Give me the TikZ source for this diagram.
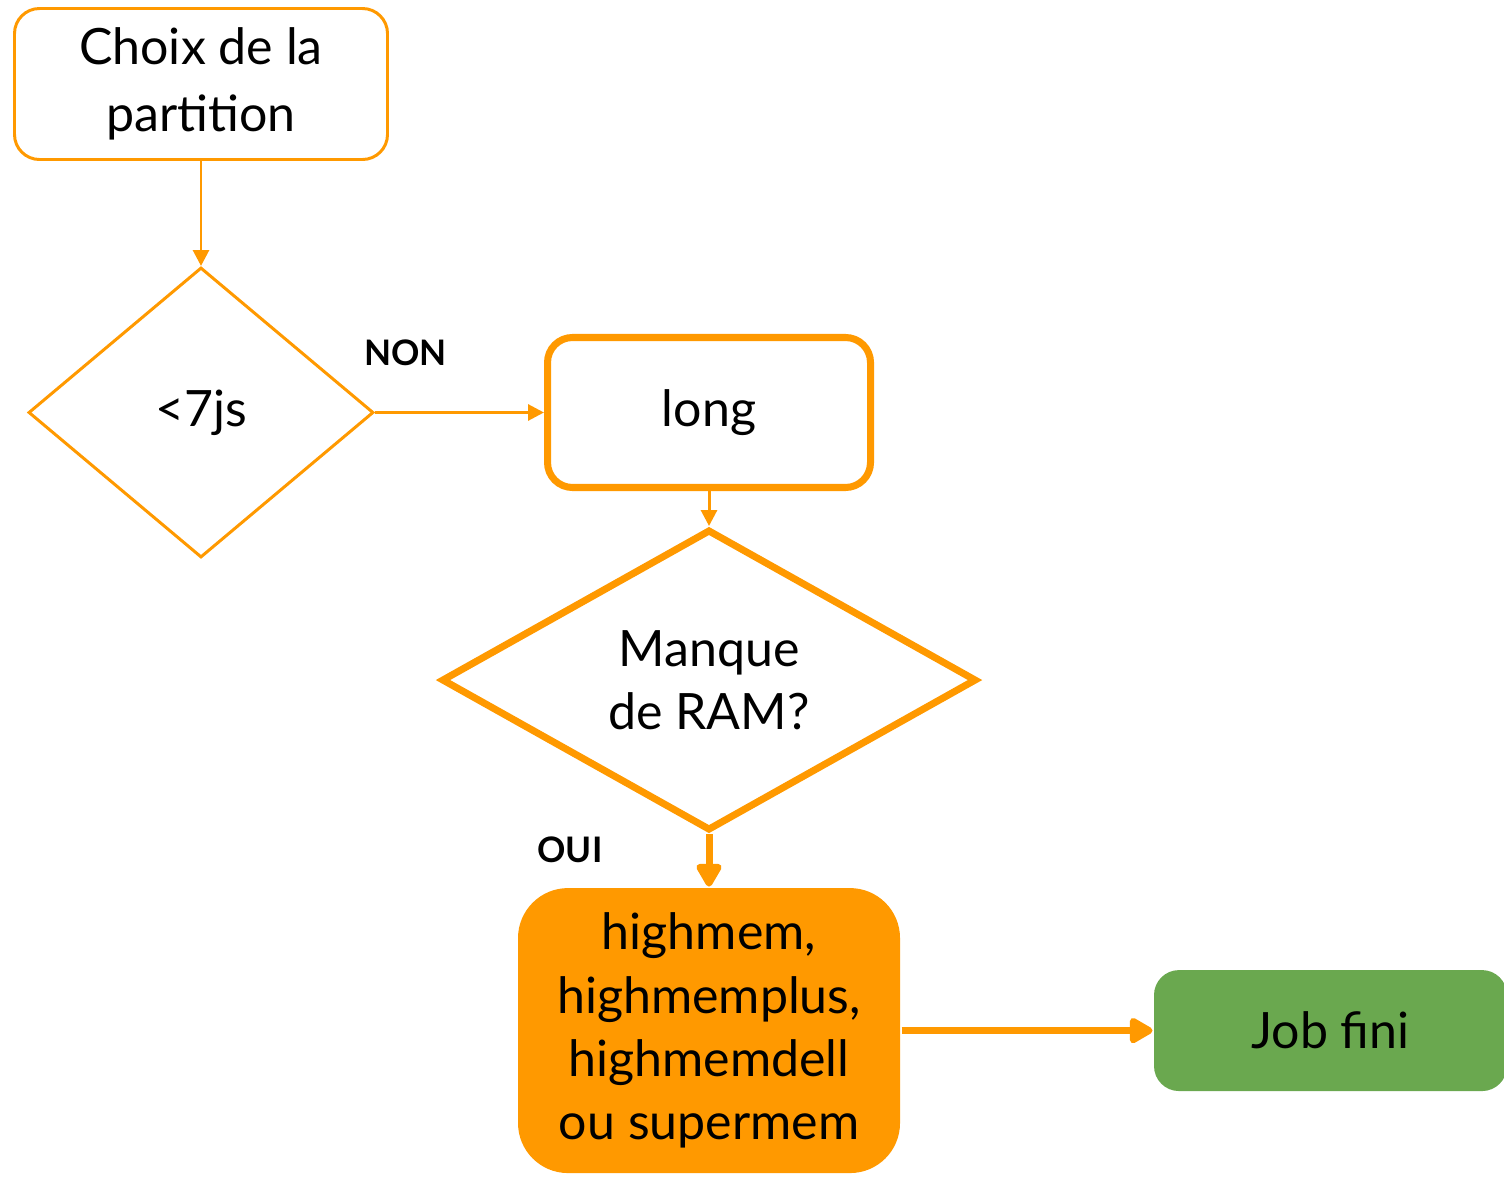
\documentclass[tikz,border=0pt]{standalone}
\usepackage{fontspec}
\setmainfont{Lato}
\usetikzlibrary{arrows.meta,positioning,shapes.geometric}
\definecolor{partorange}{HTML}{FF9900}
\definecolor{fingreen}{HTML}{6AA84F}

\begin{document}
\begin{tikzpicture}[
       etape/.style={
         rectangle,
         draw=partorange,
         line width=1.7pt,
         rounded corners=0.5cm,
         align=center,
         font=\fontsize{28.5}{36}\selectfont},
       choix/.style={
         diamond,
         draw=partorange,
         line width=1.7pt,
         inner sep=0pt,
         align=center,
         font=\fontsize{28.5}{36}\selectfont},
       reponse/.style = {inner sep=0pt, font=\fontsize{20}{24}\selectfont\bfseries},
       fleche/.style = {draw=partorange, line width=1.7pt, -{Triangle[length=9pt,width=9pt]}},
       grosse fleche/.style = {draw=partorange, line width=4pt, -{Triangle[round,length=15pt,width=16pt]}},
node distance=2.1cm and 3.38cm
      ]
      \useasboundingbox (0,0) rectangle (30.08,-23.52);

      \node[etape, minimum width=7.46cm, minimum height=3.02cm] (partition) at (4.02,-1.68) {Choix de la\\[2pt]partition};
      \node[choix, below = of partition, minimum width=6.9cm, minimum height=5.8cm] (duree) {<7js};
      \node[etape, right = of duree, line width=4pt, minimum width=6.46cm, minimum height=3.0cm] (long) {long};
      \node[choix, below = 0.7cm of long, line width=4pt, minimum width=10.7cm, minimum height=5.45cm] (ram) {Manque\\de RAM?};
      \node[etape, below = 1.05cm of ram, draw=none, fill=partorange, rounded corners=1cm,
            minimum width=7.64cm, minimum height=5.7cm] (highmem) {highmem,\\highmemplus,\\highmemdell\\ou supermem};
      \node[etape, right = 5.02cm of highmem, draw=none, fill=fingreen,
            minimum width=7.06cm, minimum height=2.42cm] (fini) {Job fini};

      \draw[fleche] (partition) -- (duree);
      \draw[fleche] (duree) -- node[reponse, pos=0.18, above=0.9cm] (non) {NON} (long);
      \draw[fleche] (long.south) -- (ram.north);
      \draw[grosse fleche] (ram.south) -- node[reponse, pos=0.3, left=2.06cm] (oui) {OUI} (highmem.north);
      \draw[grosse fleche] (highmem) -- (fini);

\end{tikzpicture}
\end{document}
